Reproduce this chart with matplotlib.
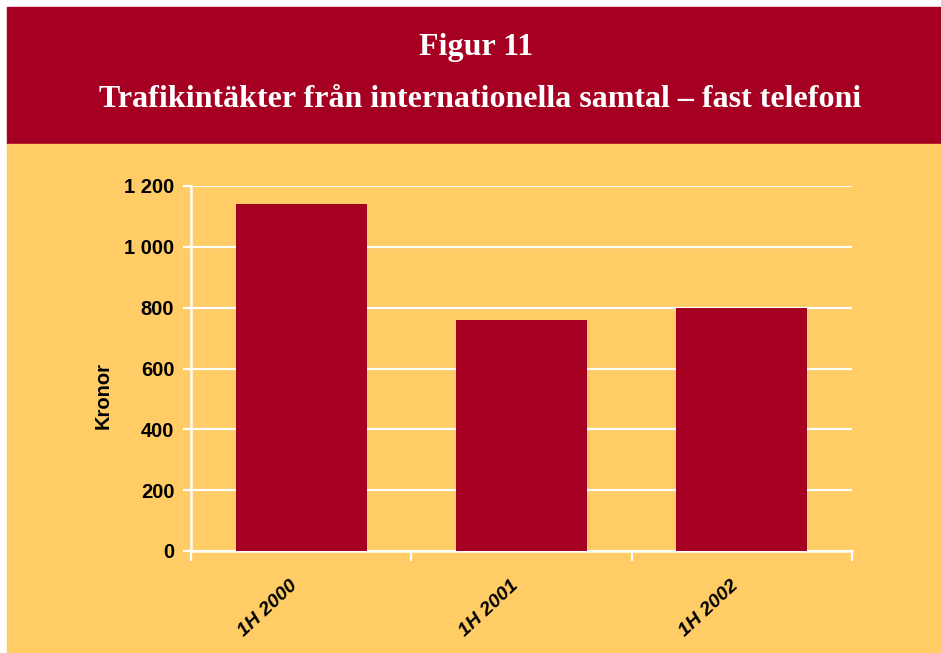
import matplotlib.pyplot as plt
import matplotlib.transforms as mtransforms
from matplotlib.patches import Rectangle

# Traffic revenue, international calls - fixed telephony (kronor)
periods = ["1H 2000", "1H 2001", "1H 2002"]
revenue = [1140, 760, 800]
yticks = [0, 200, 400, 600, 800, 1000, 1200]
ytick_labels = ["0", "200", "400", "600", "800", "1 000", "1 200"]

RED = "#A50021"
YELLOW = "#FFCC66"

fig = plt.figure(figsize=(9.41, 6.53), dpi=100)
fig.patch.set_facecolor("white")

# header band and chart background
fig.patches.append(Rectangle((7 / 941, 1 - 144 / 653), 1, 137 / 653,
                             transform=fig.transFigure, color=RED, zorder=-1))
fig.patches.append(Rectangle((7 / 941, 0), 1, 1 - 144 / 653,
                             transform=fig.transFigure, color=YELLOW, zorder=-1))

fig.text(0.506, 0.927, "Figur 11", ha="center", va="center", color="white",
         fontsize=23, fontweight="bold", family="Liberation Serif")
fig.text(0.510, 0.847, "Trafikintäkter från internationella samtal – fast telefoni",
         ha="center", va="center", color="white", fontsize=23,
         fontweight="bold", family="Liberation Serif")

ax = fig.add_axes([191 / 941, 1 - 551 / 653, 661 / 941, 365 / 653])
ax.set_zorder(2)
ax.set_facecolor(YELLOW)
x = range(len(periods))
ax.bar(x, revenue, width=0.595, color=RED, zorder=3)

ax.set_xlim(-0.5, len(periods) - 0.5)
ax.set_ylim(0, 1200)
ax.set_yticks(yticks)
ax.set_yticklabels(ytick_labels, fontsize=14.5, fontweight="bold",
                   family="Liberation Sans")
ax.yaxis.grid(True, color="white", linewidth=1.6, zorder=1)
ax.set_axisbelow(True)

ax.set_xticks(list(x))
ax.set_xticklabels(periods, rotation=43, ha="right",
                   fontsize=14, fontweight="bold", fontstyle="italic",
                   family="Liberation Sans")
shift = mtransforms.ScaledTranslation(-12 / 100, 0, fig.dpi_scale_trans)
for lbl in ax.get_xticklabels():
    lbl.set_transform(lbl.get_transform() + shift)
ax.set_xticks([i - 0.5 for i in range(len(periods) + 1)], minor=True)
ax.tick_params(axis="x", which="major", length=0, pad=19)
ax.tick_params(axis="x", which="minor", length=7, width=1.6, color="white",
               direction="out")
ax.tick_params(axis="y", length=6, width=1.6, color="white", pad=6)

for side in ["top", "right"]:
    ax.spines[side].set_visible(False)
for side in ["left", "bottom"]:
    ax.spines[side].set_color("white")
    ax.spines[side].set_linewidth(1.8)

ax.set_ylabel("Kronor", fontsize=14.5, fontweight="bold", family="Liberation Sans")
ax.yaxis.set_label_coords(-0.118, 0.427)

fig.savefig("out.png", dpi=100)
